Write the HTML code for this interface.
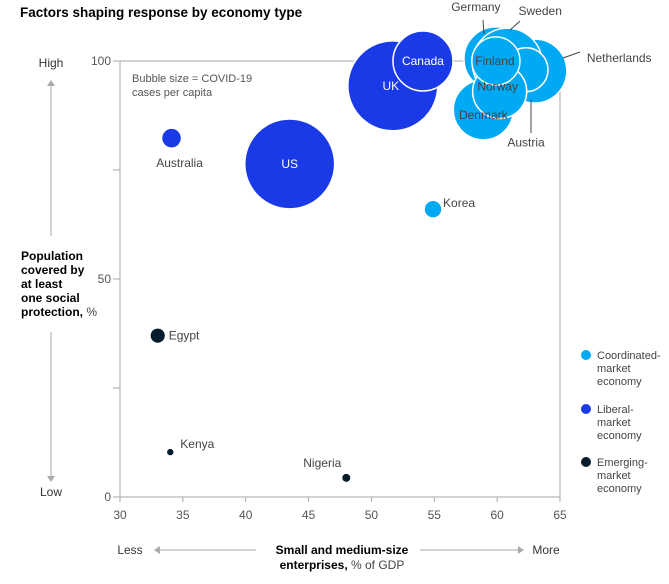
<!DOCTYPE html>
<html><head><meta charset="utf-8">
<style>
body{margin:0;background:#fff;font-family:"Liberation Sans",Arial,sans-serif;}
svg text{font-family:"Liberation Sans",Arial,sans-serif;}
</style></head>
<body>
<svg width="669" height="579" viewBox="0 0 669 579">
<text x="20" y="17" font-size="13.5" font-weight="bold" fill="#000">Factors shaping response by economy type</text>
<g id="frame"></g>
<g id="bubbles"></g>
<g id="labels"></g>
<text x="132" y="82" font-size="11" fill="#555">Bubble size = COVID-19</text>
<text x="132" y="96" font-size="11" fill="#555">cases per capita</text>
<text x="51" y="67" font-size="12" fill="#333" text-anchor="middle">High</text>
<line x1="51" y1="86" x2="51" y2="236" stroke="#aaa"/>
<path d="M47,86 L51,80 L55,86Z" fill="#aaa"/>
<line x1="51" y1="332" x2="51" y2="476" stroke="#aaa"/>
<path d="M47,476 L51,482 L55,476Z" fill="#aaa"/>
<text x="51" y="496" font-size="12" fill="#333" text-anchor="middle">Low</text>
<g font-size="12" font-weight="bold" fill="#000">
<text x="21" y="260">Population</text><text x="21" y="274">covered by</text><text x="21" y="288">at least</text><text x="21" y="302">one social</text><text x="21" y="316">protection,<tspan font-weight="normal" fill="#444"> %</tspan></text></g>
<text x="130" y="554" font-size="12" fill="#333" text-anchor="middle">Less</text>
<line x1="160" y1="550" x2="256" y2="550" stroke="#aaa"/><path d="M160,546 L154,550 L160,554Z" fill="#aaa"/>
<text x="342" y="554" font-size="12" font-weight="bold" fill="#000" text-anchor="middle">Small and medium-size</text>
<text x="342" y="569" font-size="12" fill="#000" text-anchor="middle"><tspan font-weight="bold">enterprises,</tspan><tspan fill="#444"> % of GDP</tspan></text>
<line x1="420" y1="550" x2="518" y2="550" stroke="#aaa"/><path d="M518,546 L524,550 L518,554Z" fill="#aaa"/>
<text x="546" y="554" font-size="12" fill="#333" text-anchor="middle">More</text>
<g font-size="11" fill="#444">
<circle cx="586" cy="355" r="5" fill="#00a9f4"/>
<text x="597" y="359"><tspan>Coordinated-</tspan><tspan x="597" dy="13">market</tspan><tspan x="597" dy="13">economy</tspan></text>
<circle cx="586" cy="409" r="5" fill="#1a3ae8"/>
<text x="597" y="413"><tspan>Liberal-</tspan><tspan x="597" dy="13">market</tspan><tspan x="597" dy="13">economy</tspan></text>
<circle cx="586" cy="462" r="5" fill="#051c2c"/>
<text x="597" y="466"><tspan>Emerging-</tspan><tspan x="597" dy="13">market</tspan><tspan x="597" dy="13">economy</tspan></text>
</g>
</svg>
<script>
const countries=["Germany","Sweden","Netherlands","Austria","Finland","Denmark","Norway","UK","US","Canada","Australia","Korea","Egypt","Kenya","Nigeria"];
const smeGdp=[59.9,60.8,63.0,62.3,59.9,58.9,60.2,51.7,43.5,54.1,34.1,54.9,33.0,34.0,48.0];
const socialProtection=[100.5,99.5,97.7,98.0,100.0,88.8,93.0,94.3,76.4,100.0,82.3,66.0,37.0,10.3,4.4];
const casesPerCapita=[10.2,12.2,10.2,4.8,5.8,9.0,7.3,20.2,20.2,9.0,1.0,0.8,0.5,0.1,0.16];
const econType=["c","c","c","c","c","c","c","l","l","l","l","c","e","e","e"];
const xTicks=[30,35,40,45,50,55,60,65];
const yTicks=[0,25,50,75,100];
const yTickLabels=["0","","50","","100"];
const NS="http://www.w3.org/2000/svg";
const X0=120,X1=560,Y0=497,Y1=61;
const xs=v=>X0+(v-30)/35*(X1-X0);
const ys=v=>Y0-(v/100)*(Y0-Y1);
const rs=v=>10*Math.sqrt(v);
const col={c:"#00a9f4",l:"#1a3ae8",e:"#051c2c"};
function mk(t,a,p){const e=document.createElementNS(NS,t);for(const k in a)e.setAttribute(k,a[k]);p.appendChild(e);return e;}
const fr=document.getElementById("frame");
let e=mk("path",{d:`M${X0},${Y1} L${X1},${Y1} L${X1},${Y0} L${X0},${Y0} Z`,fill:"none",stroke:"#aaa"},fr);


xTicks.forEach(t=>{mk("line",{x1:xs(t),x2:xs(t),y1:Y0,y2:Y0+5,stroke:"#aaa"},fr);
const tx=mk("text",{x:xs(t),y:Y0+22,"font-size":12,fill:"#555","text-anchor":"middle"},fr);tx.textContent=t;

});
yTicks.forEach((t,i)=>{mk("line",{x1:X0-7,x2:X0,y1:ys(t),y2:ys(t),stroke:"#aaa"},fr);
if(yTickLabels[i]){const tx=mk("text",{x:X0-9,y:ys(t)+4,"font-size":12,fill:"#555","text-anchor":"end"},fr);tx.textContent=yTickLabels[i];

}});
const bg=document.getElementById("bubbles");
const order=[8,7,9,10,11,12,13,14,5,0,2,1,3,6,4];
order.forEach(i=>{const c=mk("circle",{cx:xs(smeGdp[i]),cy:ys(socialProtection[i]),r:rs(casesPerCapita[i]),fill:col[econType[i]],stroke:"#fff","stroke-width":econType[i]=="e"?0:1.5},bg);

});
const lg=document.getElementById("labels");
function lab(i,dx,dy,anchor,fill){const t=mk("text",{x:xs(smeGdp[i])+dx,y:ys(socialProtection[i])+dy,"font-size":12,fill:fill||"#444","text-anchor":anchor||"middle"},lg);t.textContent=countries[i];

}
lab(7,-2,4,"middle","#fff");lab(8,0,4,"middle","#fff");lab(9,0,4,"middle","#fff");
lab(10,8,29);lab(11,10,-2,"start");lab(12,11,4,"start");lab(13,10,-4,"start");lab(14,-24,-11);
lab(4,-1,4);lab(6,-2,-1);lab(5,0,9);
lab(0,-20,-48);lab(1,33,-48);lab(2,52,-9,"start");lab(3,0,77);
[[483,20,484,34],[520,21,510,30],[580,52,563,58],[531,133,531,100]].forEach(l=>{mk("line",{x1:l[0],y1:l[1],x2:l[2],y2:l[3],stroke:"#444"},lg);});
</script>
</body></html>
